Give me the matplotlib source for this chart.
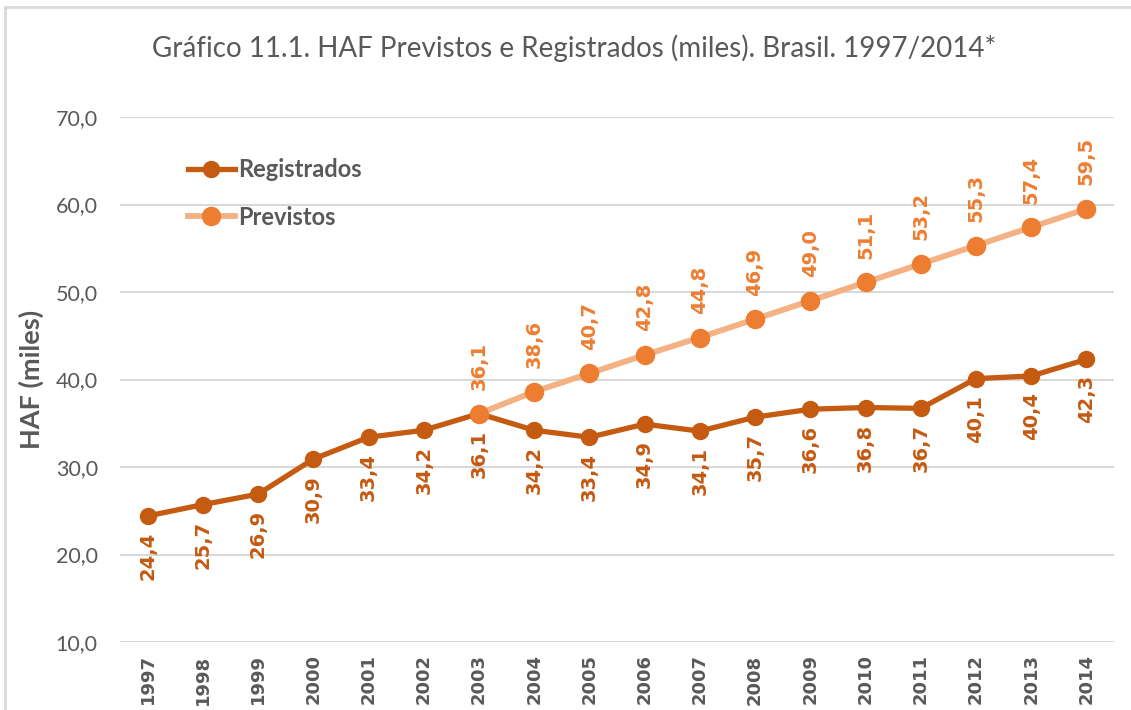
import numpy as np
import matplotlib.pyplot as plt
from matplotlib.patches import Rectangle

years = [str(y) for y in range(1997, 2015)]
registrados = [24.4, 25.7, 26.9, 30.9, 33.4, 34.2, 36.1, 34.2, 33.4, 34.9,
               34.1, 35.7, 36.6, 36.8, 36.7, 40.1, 40.4, 42.3]
previstos_years = years[6:]
previstos = [36.1, 38.6, 40.7, 42.8, 44.8, 46.9, 49.0, 51.1, 53.2, 55.3, 57.4, 59.5]

c_reg = '#C55A11'
c_prev_line = '#F4B183'
c_prev_mark = '#ED7D31'
gray = '#595959'

plt.rcParams['font.family'] = ['Lato', 'DejaVu Sans']


def fmt(v):
    return f'{v:.1f}'.replace('.', ',')


def main():
    fig = plt.figure(figsize=(11.31, 7.10), dpi=100)
    fig.patches.append(Rectangle((5 / 1131, -0.1), 1.2, 1 - 7 / 710 + 0.1,
                                 transform=fig.transFigure, fill=False,
                                 edgecolor='#D9D9D9', lw=2))
    ax = fig.add_axes([120 / 1131, 1 - 642 / 710, (1114 - 120) / 1131, (642 - 117) / 710])

    x = np.arange(len(years))
    xp = x[6:]

    ax.plot(x, registrados, color=c_reg, lw=3.8, marker='o', ms=11.5,
            label='Registrados', zorder=3)
    ax.plot(xp, previstos, color=c_prev_line, lw=4.2, marker='o', ms=13,
            markerfacecolor=c_prev_mark, markeredgecolor=c_prev_mark,
            label='Previstos', zorder=4)

    # etiquetas de datos
    for xi, v in zip(x, registrados):
        ax.annotate(fmt(v), (xi, v), xytext=(0, -11.5), textcoords='offset points',
                    rotation=90, ha='center', va='top', color=c_reg,
                    fontsize=14, fontweight='bold', family='DejaVu Sans')
    for xi, v in zip(xp, previstos):
        ax.annotate(fmt(v), (xi, v), xytext=(0, 17), textcoords='offset points',
                    rotation=90, ha='center', va='bottom', color=c_prev_mark,
                    fontsize=14, fontweight='bold', family='DejaVu Sans')

    ax.set_xlim(-0.5, len(years) - 0.5)
    ax.set_ylim(10, 70)
    ax.set_yticks(np.arange(10, 71, 10))
    ax.set_yticklabels([fmt(v) for v in np.arange(10, 71, 10)], color=gray, fontsize=15.5)
    ax.set_xticks(x)
    ax.set_xticklabels(years, rotation=90, color=gray, fontsize=13, fontweight='bold',
                       family='DejaVu Sans')
    ax.tick_params(length=0)
    ax.tick_params(axis='y', pad=16)
    ax.tick_params(axis='x', pad=9)
    ax.grid(axis='y', color='#D9D9D9', lw=1.5)
    ax.set_axisbelow(True)
    for s in ax.spines.values():
        s.set_visible(False)

    ax.set_ylabel('HAF (miles)', color=gray, fontsize=19.5, fontweight='bold')
    ax.yaxis.set_label_coords(-0.076, 0.5)
    fig.suptitle('Gráfico 11.1. HAF Previstos e Registrados (miles). Brasil. 1997/2014*',
                 x=0.508, y=0.952, color=gray, fontsize=20)

    leg = ax.legend(loc='upper left', bbox_to_anchor=(0.068, 0.922), frameon=False,
                    prop={'size': 17, 'weight': 'bold'}, handlelength=2.0,
                    handletextpad=0.15, labelspacing=1.05, borderpad=0,
                    borderaxespad=0)
    for t in leg.get_texts():
        t.set_color(gray)

    fig.savefig('out.png', dpi=100)


if __name__ == '__main__':
    main()
